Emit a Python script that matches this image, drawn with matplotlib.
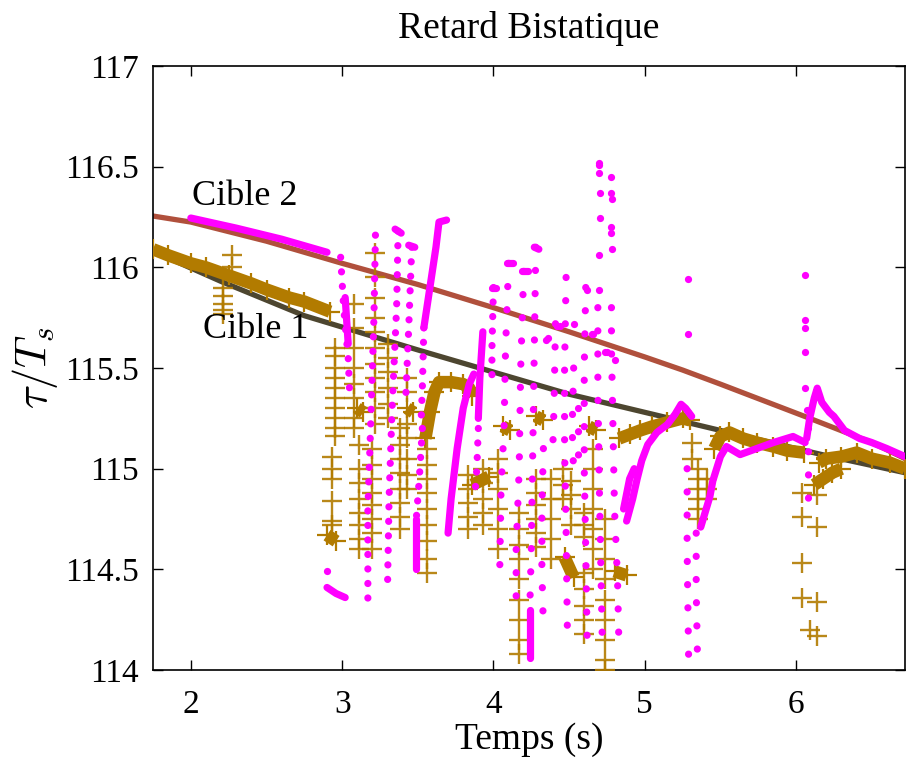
import matplotlib
matplotlib.use("Agg")
import matplotlib.pyplot as plt

plt.rcParams['font.family'] = ['Liberation Serif', 'DejaVu Serif']
plt.rcParams['mathtext.fontset'] = 'cm'

MAG = '#ff00ff'
GOLD = '#b27b00'
RED = '#b0503c'
OLIVE = '#4d4630'

# theoretical delays of the two targets
cible2_t = [1.75, 2.0, 2.5, 3.0, 3.5, 4.0, 4.5, 5.0, 5.25, 5.5, 6.07, 6.5, 6.72]
cible2_tau = [116.255, 116.225, 116.13, 116.02, 115.915, 115.80, 115.68, 115.555, 115.49, 115.42, 115.256, 115.13, 115.05]
cible1_t = [1.75, 2.2, 2.75, 3.5, 4.0, 4.5, 5.0, 5.5, 6.0, 6.2, 6.72]
cible1_tau = [116.08, 115.93, 115.76, 115.59, 115.48, 115.37, 115.28, 115.19, 115.10, 115.065, 114.98]

# dense tracks of the magenta detections (target 2)
mag_tracks = [
    [(2.0, 116.245), (2.3, 116.195), (2.6, 116.14), (2.9, 116.075)],
    [(2.90, 114.41), (2.96, 114.38), (3.02, 114.36)],
    [(3.02, 115.85), (3.04, 115.62)],
    [(3.69, 116.235), (3.64, 116.225), (3.62, 116.1), (3.59, 115.95), (3.56, 115.8), (3.54, 115.7)],
    [(3.70, 114.68), (3.72, 114.85), (3.76, 115.1), (3.80, 115.3), (3.84, 115.42), (3.87, 115.47)],
    [(3.93, 115.68), (3.91, 115.45), (3.90, 115.25)],
    [(3.49, 114.75), (3.49, 114.5)],
    [(3.35, 116.19), (3.39, 116.17)],
    [(3.44, 116.11), (3.48, 116.10)],
    [(3.99, 115.90), (4.02, 115.90)],
    [(4.09, 116.02), (4.13, 116.02)],
    [(4.19, 115.98), (4.23, 115.98)],
    [(4.27, 116.10), (4.30, 116.09)],
    [(4.24, 114.3), (4.24, 114.06)],
    [(4.88, 114.74), (4.92, 114.85), (4.95, 114.95), (4.98, 115.04), (5.02, 115.12), (5.08, 115.18),
     (5.15, 115.22), (5.2, 115.27), (5.24, 115.32), (5.27, 115.3), (5.31, 115.26)],
    [(4.86, 114.8), (4.90, 114.95), (4.93, 115.0)],
    [(5.37, 114.71), (5.41, 114.81), (5.43, 114.86), (5.45, 114.94), (5.5, 115.06), (5.54, 115.11),
     (5.63, 115.07), (5.74, 115.10), (5.85, 115.13), (5.98, 115.16), (6.06, 115.13)],
    [(6.07, 115.15), (6.09, 115.25), (6.12, 115.35), (6.14, 115.40), (6.17, 115.33), (6.22, 115.28),
     (6.25, 115.26), (6.32, 115.19), (6.42, 115.15), (6.5, 115.13), (6.6, 115.10), (6.72, 115.06)],
]

# columns of magenta detections, closely spaced (left part)
mag_cols_close = [
    [(2.99, 116.05), (3.01, 115.8), (3.04, 115.55), (3.05, 115.37)],
    [(3.22, 116.16), (3.21, 115.75), (3.19, 115.25), (3.17, 114.8), (3.17, 114.32)],
    [(3.37, 116.18), (3.36, 115.8), (3.33, 115.3), (3.31, 114.85), (3.30, 114.42)],
    [(3.46, 116.10), (3.44, 115.7), (3.42, 115.35)],
    [(3.53, 115.2), (3.51, 114.95), (3.49, 114.75)],
    [(3.54, 115.7), (3.53, 115.4), (3.52, 115.2)],
    [(3.90, 115.2), (3.89, 115.0), (3.88, 114.9)],
    [(4.0, 115.9), (3.99, 115.6), (3.99, 115.4)],
]

# columns of magenta detections, loosely spaced (middle and right part)
mag_cols_loose = [
    [(4.1, 116.02), (4.08, 115.6), (4.07, 115.2), (4.05, 114.9), (4.04, 114.42)],
    [(4.2, 115.98), (4.18, 115.5), (4.17, 115.0), (4.15, 114.6), (4.15, 114.36)],
    [(4.28, 116.1), (4.27, 115.6), (4.26, 115.1), (4.25, 114.6), (4.24, 114.3)],
    [(4.41, 115.72), (4.40, 115.3), (4.39, 115.05)],
    [(4.48, 115.95), (4.47, 115.5), (4.47, 115.1), (4.48, 114.7), (4.49, 114.11)],
    [(4.33, 115.1), (4.32, 114.8), (4.32, 114.5), (4.33, 114.21)],
    [(4.53, 115.5), (4.52, 115.2), (4.53, 114.98)],
    [(4.61, 115.9), (4.60, 115.5), (4.60, 115.0), (4.61, 114.6), (4.62, 114.11)],
    [(4.69, 115.8), (4.69, 115.4), (4.70, 114.9), (4.71, 114.5), (4.72, 114.12)],
    [(4.78, 115.8), (4.78, 115.6), (4.79, 115.2), (4.80, 114.8), (4.82, 114.45), (4.83, 114.1)],
    [(4.56, 115.3), (4.56, 115.0)],
    [(5.28, 115.0), (5.28, 114.6), (5.29, 114.05)],
    [(5.34, 114.68), (5.34, 114.4), (5.35, 114.0)],
    [(6.08, 115.2), (6.08, 115.0), (6.08, 114.84)],
]

# isolated magenta points
mag_x = [2.90, 4.70, 4.70, 4.70, 4.705, 4.705, 4.70, 4.70, 4.78, 4.78, 4.785, 4.78, 4.78, 4.785,
         4.42, 4.44, 4.53, 4.35, 4.36, 4.66, 4.75, 4.80, 4.62, 4.65, 4.74,
         5.286, 5.286, 6.06, 6.06, 6.06, 6.06, 6.06, 6.07]
mag_y = [114.49, 116.52, 116.51, 116.47, 116.37, 116.245, 116.06, 115.89, 116.45, 116.37, 116.34, 116.2, 116.17, 116.09,
         115.71, 115.71, 115.72, 115.64, 115.65, 115.67, 115.58, 115.54, 115.89, 115.67, 115.58,
         115.94, 115.67, 115.96, 115.74, 115.70, 115.58, 115.40, 115.29]

# dense bands of the gold detections (target 1)
gold_bands = [
    [(1.75, 116.09), (1.85, 116.06), (2.0, 116.02), (2.1, 116.0), (2.25, 115.96), (2.4, 115.92),
     (2.5, 115.89), (2.65, 115.85), (2.75, 115.83), (2.92, 115.78)],
    [(3.55, 115.15), (3.58, 115.28), (3.61, 115.38), (3.64, 115.43), (3.72, 115.43), (3.8, 115.42),
     (3.84, 115.40), (3.86, 115.36)],
    [(4.83, 115.15), (4.9, 115.17), (4.97, 115.19), (5.05, 115.21), (5.15, 115.23), (5.25, 115.25), (5.3, 115.24)],
    [(5.46, 115.1), (5.5, 115.16), (5.56, 115.18), (5.65, 115.15), (5.74, 115.13), (5.85, 115.11),
     (5.94, 115.09), (6.05, 115.08)],
    [(6.15, 115.03), (6.2, 115.05), (6.3, 115.06), (6.4, 115.08), (6.5, 115.05), (6.62, 115.03), (6.72, 115.0)],
    [(6.12, 114.92), (6.18, 114.95), (6.24, 114.98), (6.3, 115.0)],
    [(2.90, 114.67), (2.96, 114.64)],
    [(3.10, 115.30), (3.14, 115.28)],
    [(3.43, 115.30), (3.47, 115.28)],
    [(3.86, 114.92), (3.97, 114.96)],
    [(4.06, 115.21), (4.11, 115.19)],
    [(4.28, 115.26), (4.33, 115.24)],
    [(4.47, 114.56), (4.53, 114.46)],
    [(4.80, 114.49), (4.88, 114.47)],
    [(4.63, 115.21), (4.68, 115.19)],
]

# columns of gold crosses: (time, list of delays)
gold_cols = [
    (2.21, [115.9, 115.86, 115.82, 115.79, 115.77]),
    (2.27, [116.06, 116.0]),
    (2.95, [115.6, 115.56, 115.5, 115.45, 115.4, 115.35, 115.3, 115.25, 115.2, 115.16]),
    (2.93, [115.06, 115.0, 114.95, 114.84, 114.74, 114.72]),
    (3.08, [115.82, 115.7, 115.6, 115.5, 115.42, 115.35, 115.25, 115.2]),
    (3.11, [115.12, 115.0, 114.93, 114.85, 114.78, 114.72, 114.65, 114.6]),
    (3.22, [116.07, 115.95, 115.85, 115.75, 115.68, 115.6, 115.52, 115.45, 115.38, 115.3, 115.22]),
    (3.20, [115.1, 115.02, 114.95, 114.88, 114.82, 114.75, 114.68, 114.6]),
    (3.30, [115.62, 115.55, 115.48, 115.4, 115.32, 115.25]),
    (3.38, [115.2, 115.12, 115.05, 114.98, 114.9, 114.83, 114.76, 114.7]),
    (3.43, [115.45, 115.38, 115.22, 115.15, 115.05, 114.97, 114.9]),
    (3.56, [115.1, 115.02, 114.95, 114.88, 114.8, 114.72, 114.64, 114.55, 114.48]),
    (3.83, [114.97, 114.9, 114.83, 114.76, 114.7]),
    (3.93, [115.0, 114.93, 114.85, 114.78, 114.72]),
    (4.03, [115.05, 114.98, 114.9, 114.8, 114.7, 114.6]),
    (4.17, [114.78, 114.7, 114.62, 114.55, 114.45, 114.35, 114.25, 114.15, 114.08]),
    (4.28, [114.95, 114.88, 114.82, 114.75, 114.68, 114.61]),
    (4.38, [114.95, 114.85, 114.75, 114.65, 114.55]),
    (4.51, [114.94, 114.87, 114.8, 114.72]),
    (4.60, [114.78, 114.72, 114.66, 114.48, 114.4, 114.32, 114.25, 114.18]),
    (4.66, [115.1, 115.0, 114.9, 114.8, 114.7, 114.6, 114.5]),
    (4.74, [114.75, 114.65, 114.55, 114.45, 114.35, 114.25, 114.15, 114.05, 114.0]),
    (4.46, [115.0, 114.92, 114.85]),
    (5.31, [115.13, 115.05]),
    (5.35, [115.0, 114.95, 114.9, 114.85, 114.8, 114.75]),
    (5.41, [114.95, 114.9, 114.85]),
    (6.04, [114.88, 114.76, 114.53, 114.36]),
    (6.14, [114.87, 114.71, 114.34, 114.17]),
    (6.09, [114.2]),
]

fig = plt.figure(figsize=(9.06, 7.6), dpi=100)
ax = fig.add_axes([0.1689, 0.1184, 0.830, 0.7947])

ax.plot(cible2_t, cible2_tau, color=RED, lw=3.8, zorder=2)
ax.plot(cible1_t, cible1_tau, color=OLIVE, lw=3.8, zorder=2)

for band in gold_bands:
    bx = [p[0] for p in band]
    by = [p[1] for p in band]
    ax.plot(bx, by, color=GOLD, lw=9, solid_capstyle='butt', zorder=3)
    ax.plot(bx, by, ls='none', marker='+', ms=14, mew=1.6, color=GOLD, zorder=3)

gx = [c[0] for c in gold_cols for _ in c[1]]
gy = [y for c in gold_cols for y in c[1]]
ax.plot(gx, gy, ls='none', marker='+', ms=14, mew=1.7, color=GOLD, alpha=0.9, zorder=3)

for col in mag_cols_close:
    ax.plot([p[0] for p in col], [p[1] for p in col], color=MAG, lw=5.2,
            ls=(0, (0.01, 2.0)), dash_capstyle='round', zorder=4)
for col in mag_cols_loose:
    ax.plot([p[0] for p in col], [p[1] for p in col], color=MAG, lw=5.2,
            ls=(0, (0.01, 3.2)), dash_capstyle='round', zorder=4)

for tr in mag_tracks:
    ax.plot([p[0] for p in tr], [p[1] for p in tr], color=MAG, lw=5.2,
            solid_capstyle='round', solid_joinstyle='round', zorder=4)

ax.plot(mag_x, mag_y, ls='none', marker='o', ms=5.2, mec='none', color=MAG, zorder=4)

ax.text(2.01, 116.35, 'Cible 2', fontsize=26, va='center', ha='left')
ax.text(2.08, 115.69, 'Cible 1', fontsize=26, va='center', ha='left')

ax.set_xlim(1.75, 6.72)
ax.set_ylim(114, 117)
ax.set_xticks([2, 3, 4, 5, 6])
ax.set_yticks([114, 114.5, 115, 115.5, 116, 116.5, 117])
ax.set_yticklabels(['114', '114.5', '115', '115.5', '116', '116.5', '117'])
ax.tick_params(direction='in', length=7, width=1, top=True, right=True, labelsize=24, pad=10)
ax.tick_params(axis='x', pad=14)
for s in ax.spines.values():
    s.set_linewidth(1.2)

ax.set_title('Retard Bistatique', fontsize=27, pad=20)
ax.set_xlabel('Temps (s)', fontsize=27, labelpad=2)
ax.set_ylabel(r'$\tau/T_s$', fontsize=32, labelpad=4)

fig.savefig('out.png', dpi=100)
